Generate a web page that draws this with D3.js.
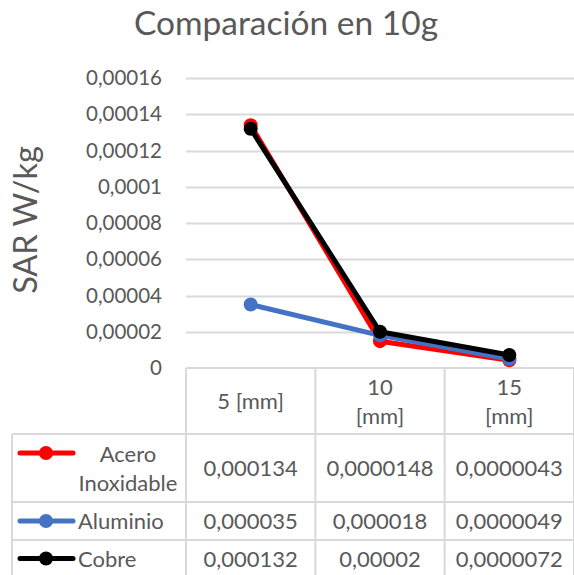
<!DOCTYPE html>
<html>
<head>
<meta charset="utf-8">
<script src="https://cdn.jsdelivr.net/npm/d3@7"></script>
<style>
  html, body { margin: 0; padding: 0; background: #fff; }
  svg { display: block; }
  text { font-family: Lato, "Open Sans", sans-serif; fill: #595959; }
</style>
</head>
<body>
<svg id="chart" width="574" height="575"></svg>
<script>
// Chart data
const categories = ["5 [mm]", "10 [mm]", "15 [mm]"];
const categoryLines = [["5 [mm]"], ["10", "[mm]"], ["15", "[mm]"]];
const seriesNames = ["Acero Inoxidable", "Aluminio", "Cobre"];
const seriesLabelLines = [["Acero", "Inoxidable"], ["Aluminio"], ["Cobre"]];
const aceroValues = [0.000134, 0.0000148, 0.0000043];
const aluminioValues = [0.000035, 0.000018, 0.0000049];
const cobreValues = [0.000132, 0.00002, 0.0000072];
const aceroLabels = ["0,000134", "0,0000148", "0,0000043"];
const aluminioLabels = ["0,000035", "0,000018", "0,0000049"];
const cobreLabels = ["0,000132", "0,00002", "0,0000072"];
const yTicks = [0, 0.00002, 0.00004, 0.00006, 0.00008, 0.0001, 0.00012, 0.00014, 0.00016];
const yTickLabels = ["0", "0,00002", "0,00004", "0,00006", "0,00008", "0,0001", "0,00012", "0,00014", "0,00016"];
const seriesColors = ["#ff0000", "#4472c4", "#000000"];

const series = [
  { name: seriesNames[0], values: aceroValues, labels: aceroLabels, lines: seriesLabelLines[0], color: seriesColors[0] },
  { name: seriesNames[1], values: aluminioValues, labels: aluminioLabels, lines: seriesLabelLines[1], color: seriesColors[1] },
  { name: seriesNames[2], values: cobreValues, labels: cobreLabels, lines: seriesLabelLines[2], color: seriesColors[2] }
];

const svg = d3.select("#chart");
const gridColor = "#d9d9d9";
const tableFont = 22;
const lineWidth = 5;
const markerR = 7;

// Plot area
const plotLeft = 186, plotRight = 576, plotTop = 78, plotBottom = 368;
const x = d3.scaleBand().domain(categories).range([plotLeft, plotRight - 2]);
const y = d3.scaleLinear().domain([0, 0.00016]).range([plotBottom, plotTop]);

// Title
svg.append("text")
  .attr("x", 286).attr("y", 35)
  .attr("text-anchor", "middle")
  .attr("font-size", 33.5)
  .text("Comparación en 10g");

// Y axis title
svg.append("text")
  .attr("transform", `translate(37,${(plotTop + plotBottom) / 2 - 3}) rotate(-90)`)
  .attr("text-anchor", "middle")
  .attr("font-size", 32.5)
  .text("SAR W/kg");

// Gridlines
svg.append("g").selectAll("line")
  .data(yTicks.filter(d => d > 0))
  .join("line")
  .attr("x1", plotLeft).attr("x2", plotRight)
  .attr("y1", d => Math.round(y(d)) + 0.5).attr("y2", d => Math.round(y(d)) + 0.5)
  .attr("stroke", gridColor).attr("stroke-width", 2);

// Y axis tick labels
svg.append("g").selectAll("text")
  .data(yTicks)
  .join("text")
  .attr("x", 162)
  .attr("y", d => y(d) + 7)
  .attr("text-anchor", "end")
  .attr("font-size", 20.5)
  .text((d, i) => yTickLabels[i]);

// Data table
const tableLeft = 12;
const rowEdges = [368, 434, 502, 540, 577];
const colEdges = [plotLeft].concat(categories.map(c => x(c) + x.bandwidth()));
const table = svg.append("g").attr("stroke", gridColor).attr("stroke-width", 2);
// horizontal rules
rowEdges.forEach((ry, i) => {
  table.append("line")
    .attr("x1", i === 0 ? plotLeft : tableLeft).attr("x2", plotRight)
    .attr("y1", ry).attr("y2", ry);
});
// vertical rules
table.append("line").attr("x1", tableLeft).attr("x2", tableLeft).attr("y1", rowEdges[1]).attr("y2", 577);
colEdges.forEach(cx => {
  table.append("line").attr("x1", cx).attr("x2", cx).attr("y1", rowEdges[0]).attr("y2", 577);
});

// Category header cells
categories.forEach((c, i) => {
  const lines = categoryLines[i];
  const cx = x(c) + x.bandwidth() / 2;
  const cy = (rowEdges[0] + rowEdges[1]) / 2;
  const lh = 29;
  lines.forEach((ln, j) => {
    svg.append("text")
      .attr("x", cx)
      .attr("y", cy + (j - (lines.length - 1) / 2) * lh + 8)
      .attr("text-anchor", "middle")
      .attr("font-size", tableFont)
      .text(ln);
  });
});

// Series rows: legend key, name, values
series.forEach((s, si) => {
  const top = rowEdges[si + 1], bottom = rowEdges[si + 2];
  const cy = (top + bottom) / 2;
  const keyY = s.lines.length > 1 ? top + 19 : cy;
  svg.append("line")
    .attr("x1", 20).attr("x2", 73)
    .attr("y1", keyY).attr("y2", keyY)
    .attr("stroke", s.color).attr("stroke-width", lineWidth).attr("stroke-linecap", "round");
  svg.append("circle")
    .attr("cx", 46).attr("cy", keyY).attr("r", markerR)
    .attr("fill", s.color);
  if (s.lines.length > 1) {
    s.lines.forEach((ln, j) => {
      svg.append("text")
        .attr("x", 128)
        .attr("y", cy + (j - (s.lines.length - 1) / 2) * 29 + 8)
        .attr("text-anchor", "middle")
        .attr("font-size", tableFont)
        .text(ln);
    });
  } else {
    svg.append("text")
      .attr("x", 78).attr("y", cy + 8)
      .attr("font-size", tableFont)
      .text(s.lines[0]);
  }
  categories.forEach((c, ci) => {
    svg.append("text")
      .attr("x", x(c) + x.bandwidth() / 2)
      .attr("y", cy + 8)
      .attr("text-anchor", "middle")
      .attr("font-size", tableFont)
      .text(s.labels[ci]);
  });
});

// Lines and markers
const line = d3.line()
  .x((d, i) => x(categories[i]) + x.bandwidth() / 2)
  .y(d => y(d));

series.forEach(s => {
  const g = svg.append("g");
  g.append("path")
    .attr("d", line(s.values))
    .attr("fill", "none")
    .attr("stroke", s.color)
    .attr("stroke-width", lineWidth)
    .attr("stroke-linejoin", "round")
    .attr("stroke-linecap", "round");
  g.selectAll("circle")
    .data(s.values)
    .join("circle")
    .attr("cx", (d, i) => x(categories[i]) + x.bandwidth() / 2)
    .attr("cy", d => y(d))
    .attr("r", markerR)
    .attr("fill", s.color);
});
</script>
</body>
</html>
